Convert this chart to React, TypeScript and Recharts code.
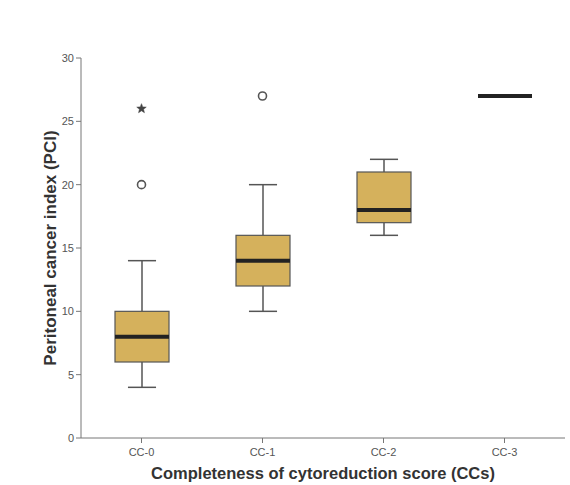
import React from 'react';
import { ComposedChart, Bar, Line, XAxis, YAxis } from 'recharts';

const categories = ['CC-0', 'CC-1', 'CC-2', 'CC-3'];
const mins = [4, 10, 16, 27];
const q1s = [6, 12, 17, 27];
const medians = [8, 14, 18, 27];
const q3s = [10, 16, 21, 27];
const maxs = [14, 20, 22, 27];
const circleOutliers: (number | null)[] = [20, 27, null, null];
const starOutliers: (number | null)[] = [26, null, null, null];
const yTicks = [0, 5, 10, 15, 20, 25, 30];

const data = categories.map((c, i) => ({
  cat: c,
  min: mins[i],
  q1: q1s[i],
  median: medians[i],
  q3: q3s[i],
  max: maxs[i],
  outCircle: circleOutliers[i],
  outStar: starOutliers[i],
}));

const FONT = '"Liberation Sans", Arial, sans-serif';
const BOX_FILL = '#D5B15C';
const EDGE = '#555555';

const BoxShape = (props: any) => {
  const { x, y, width, height, payload } = props;
  const { min, q1, median, q3, max } = payload;
  const cx = x + width / 2;
  const capHalf = width * 0.26;
  if (max === min) {
    return (
      <line x1={x} x2={x + width} y1={y} y2={y} stroke="#222" strokeWidth={4} />
    );
  }
  const ppu = height / (max - min);
  const py = (v: number) => y + (max - v) * ppu;
  return (
    <g>
      <line x1={cx} x2={cx} y1={py(max)} y2={py(q3)} stroke={EDGE} strokeWidth={1.5} />
      <line x1={cx} x2={cx} y1={py(q1)} y2={py(min)} stroke={EDGE} strokeWidth={1.5} />
      <line x1={cx - capHalf} x2={cx + capHalf} y1={py(max)} y2={py(max)} stroke={EDGE} strokeWidth={1.5} />
      <line x1={cx - capHalf} x2={cx + capHalf} y1={py(min)} y2={py(min)} stroke={EDGE} strokeWidth={1.5} />
      <rect x={x} y={py(q3)} width={width} height={py(q1) - py(q3)} fill={BOX_FILL} stroke={EDGE} strokeWidth={1.2} />
      <line x1={x} x2={x + width} y1={py(median)} y2={py(median)} stroke="#222" strokeWidth={4} />
    </g>
  );
};

const CircleDot = (props: any) => {
  const { cx, cy, value } = props;
  if (value == null || cy == null || isNaN(cy)) return <g key={props.key} />;
  return <circle key={props.key} cx={cx} cy={cy} r={4} fill="#fff" stroke={EDGE} strokeWidth={1.6} />;
};

const StarDot = (props: any) => {
  const { cx, cy, value } = props;
  if (value == null || cy == null || isNaN(cy)) return <g key={props.key} />;
  const pts: string[] = [];
  for (let k = 0; k < 10; k++) {
    const r = k % 2 === 0 ? 5 : 2.2;
    const a = -Math.PI / 2 + (k * Math.PI) / 5;
    pts.push(`${cx + r * Math.cos(a)},${cy + r * Math.sin(a)}`);
  }
  return <polygon key={props.key} points={pts.join(' ')} fill="#444" stroke="#444" strokeWidth={0.5} />;
};

const YLabel = (props: any) => {
  const vb = props.viewBox;
  const x = vb.x + 50;
  const y = vb.y + vb.height / 2;
  return (
    <text x={x} y={y} transform={`rotate(-90 ${x} ${y})`} textAnchor="middle" dominantBaseline="central"
      fontFamily={FONT} fontWeight="bold" fontSize={17} fill="#333">
      Peritoneal cancer index (PCI)
    </text>
  );
};

const XLabel = (props: any) => {
  const vb = props.viewBox;
  const x = vb.x + vb.width / 2;
  const y = vb.y + 35;
  return (
    <text x={x} y={y} textAnchor="middle" dominantBaseline="central"
      fontFamily={FONT} fontWeight="bold" fontSize={16.5} fill="#333">
      Completeness of cytoreduction score (CCs)
    </text>
  );
};

export default function App() {
  return (
    <div style={{ position: 'absolute', left: 0, top: 0, width: 570, height: 485, background: '#fff' }}>
      <ComposedChart width={570} height={485} data={data} margin={{ top: 58, right: 5, bottom: 0, left: 0 }}>
        <XAxis dataKey="cat" height={47} axisLine={{ stroke: '#777' }} tickLine={{ stroke: '#777' }}
          tickSize={5} tickMargin={5} tick={{ fontSize: 11, fill: '#555', fontFamily: FONT }}
          label={{ content: XLabel }} />
        <YAxis width={81} domain={[0, 30]} ticks={yTicks} type="number" axisLine={{ stroke: '#777' }}
          tickLine={{ stroke: '#777' }} tickSize={5} tickMargin={2}
          tick={{ fontSize: 11, fill: '#555', fontFamily: FONT }} label={{ content: YLabel }} />
        <Bar dataKey={(d: any) => [d.min, d.max]} barSize={54} shape={BoxShape} isAnimationActive={false} />
        <Line dataKey="outCircle" stroke="none" dot={CircleDot} activeDot={false} isAnimationActive={false} />
        <Line dataKey="outStar" stroke="none" dot={StarDot} activeDot={false} isAnimationActive={false} />
      </ComposedChart>
    </div>
  );
}
